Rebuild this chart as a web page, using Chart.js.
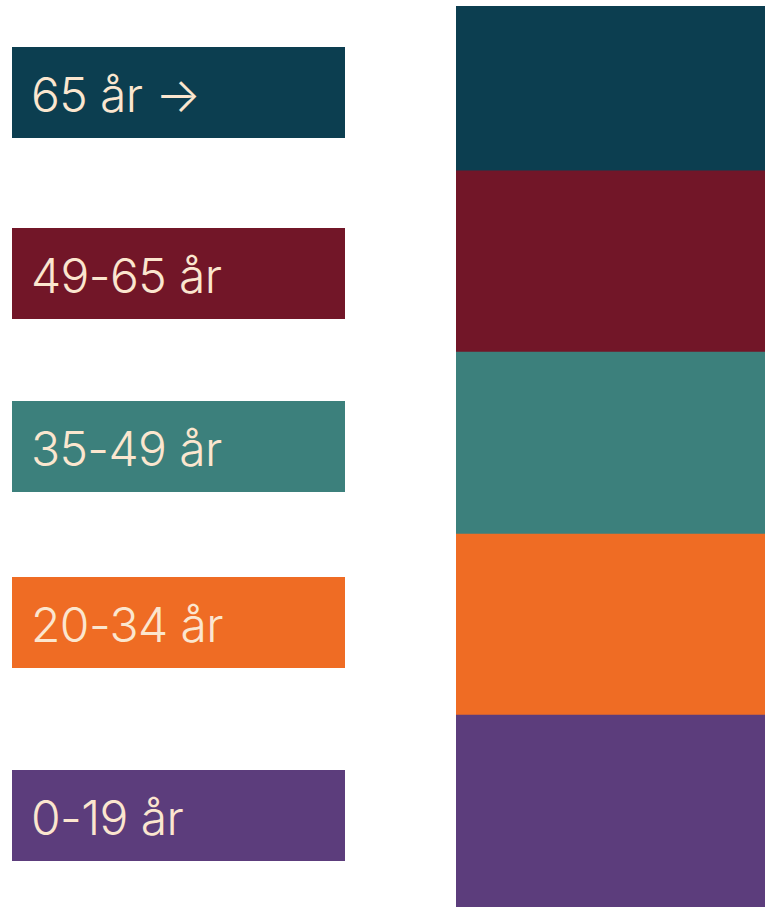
<!DOCTYPE html>
<html>
<head>
<meta charset="utf-8">
<script src="https://cdn.jsdelivr.net/npm/chart.js@4"></script>
<style>
  html, body { margin: 0; padding: 0; background: #fff; overflow: hidden; }
  body { width: 765px; height: 907px; position: relative; font-family: Inter, "Noto Sans", sans-serif; }
  #legend { position: absolute; left: 12px; top: 0; width: 333px; height: 907px; }
  .lbl {
    position: absolute; left: 0; width: 333px; height: 91px;
    color: #fbe6cf; font-size: 48px; font-weight: 300; letter-spacing: -0.6px;
    display: flex; align-items: center; padding-left: 19px; box-sizing: border-box;
    padding-top: 3px;
  }
  #wrap { position: absolute; left: 456px; top: 6px; width: 309px; height: 901px; }
</style>
</head>
<body>
<div id="legend"></div>
<div id="wrap"><canvas id="chart"></canvas></div>
<script>
  // age groups, bottom to top
  const groups = ["0-19 år", "20-34 år", "35-49 år", "49-65 år", "65 år →"];
  const shares = [21.3, 20.1, 20.2, 20.1, 18.3];
  const colors = ["#5c3d7c", "#ef6c24", "#3c807c", "#721628", "#0c3e50"];
  const labelTops = [770, 577, 401, 228, 47];

  const lg = document.getElementById("legend");
  groups.forEach((g, i) => {
    const d = document.createElement("div");
    d.className = "lbl";
    d.style.top = labelTops[i] + "px";
    d.style.background = colors[i];
    d.textContent = g;
    lg.appendChild(d);
  });

  new Chart(document.getElementById("chart").getContext("2d"), {
    type: "bar",
    data: {
      labels: ["Andel"],
      datasets: groups.map((g, i) => ({
        label: g,
        data: [shares[i]],
        backgroundColor: colors[i],
        borderWidth: 0,
        barPercentage: 1,
        categoryPercentage: 1,
      })),
    },
    options: {
      responsive: true,
      maintainAspectRatio: false,
      animation: false,
      layout: { padding: 0 },
      plugins: { legend: { display: false }, tooltip: { enabled: false } },
      scales: {
        x: { stacked: true, display: false },
        y: { stacked: true, display: false, min: 0, max: 100 },
      },
    },
  });
</script>
</body>
</html>
